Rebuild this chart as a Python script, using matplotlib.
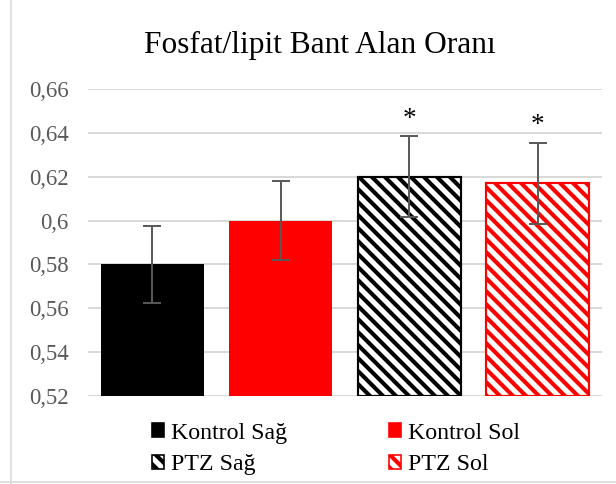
import matplotlib
matplotlib.use('Agg')
import matplotlib.pyplot as plt
import matplotlib.patches as mpatches
from matplotlib.lines import Line2D
from matplotlib.ticker import FuncFormatter

groups = ['Kontrol Sağ', 'Kontrol Sol', 'PTZ Sağ', 'PTZ Sol']
means = [0.580, 0.600, 0.620, 0.617]
errors = [0.0175, 0.018, 0.0185, 0.0185]
signif = [False, False, True, True]
yticks = [0.52, 0.54, 0.56, 0.58, 0.60, 0.62, 0.64, 0.66]

face = ['black', '#FF0000', 'white', 'white']
edge = ['black', '#FF0000', 'black', '#FF0000']
hatch = [None, None, '\\\\', '\\\\']

DPI = 78
plt.rcParams['font.family'] = ['Liberation Serif', 'DejaVu Serif']
plt.rcParams['hatch.linewidth'] = 3.8

fig = plt.figure(figsize=(616 / DPI, 484 / DPI), dpi=DPI)
ax = fig.add_axes([88 / 616, 1 - 396 / 484, 514 / 616, 307 / 484])

x = range(len(groups))
for i in x:
    ax.bar(i, means[i] - 0.52, bottom=0.52, width=0.8, color=face[i],
           edgecolor=edge[i], hatch=hatch[i], linewidth=2 if hatch[i] else 0,
           zorder=3)
ax.errorbar(list(x), means, yerr=errors, fmt='none', ecolor='#595959',
            elinewidth=1.8, capsize=8, capthick=1.8, zorder=4)
for i in x:
    if signif[i]:
        ax.text(i, means[i] + errors[i] + 0.002, '*', ha='center', va='bottom',
                fontsize=25, color='black')

ax.set_xlim(-0.5, 3.5)
ax.set_ylim(0.52, 0.66)
ax.set_yticks(yticks)
ax.yaxis.set_major_formatter(FuncFormatter(lambda v, p: f'{v:.2f}'.rstrip('0').replace('.', ',')))
ax.set_xticks([])
ax.tick_params(axis='y', length=0, pad=18, labelsize=21, labelcolor='#595959')
ax.grid(axis='y', color='#D9D9D9', linewidth=1.8, zorder=0)
for s in ax.spines.values():
    s.set_visible(False)

fig.text(0.5 + 12 / 616, 1 - 45 / 484, 'Fosfat/lipit Bant Alan Oranı', ha='center',
         va='center', fontsize=29, color='#000000')

# two columns, filled row by row
order = [0, 2, 1, 3]
handles = []
for i in order:
    handles.append(mpatches.Patch(facecolor=face[i], edgecolor=edge[i],
                                  hatch=hatch[i], linewidth=1.5, label=groups[i]))
fig.legend(handles=handles, loc='center', bbox_to_anchor=(336 / 616, 1 - 449 / 484),
           ncol=2, frameon=False, fontsize=22, handlelength=0.5, handleheight=0.5,
           handletextpad=0.3, columnspacing=4.3, labelspacing=0.45)

# chart area border
fig.add_artist(Line2D([11 / 616, 11 / 616], [0, 1], color='#D9D9D9', linewidth=1.5))
fig.add_artist(Line2D([0, 1], [2 / 484, 2 / 484], color='#D9D9D9', linewidth=1.5))

fig.savefig('out.png', dpi=DPI, facecolor='white')
